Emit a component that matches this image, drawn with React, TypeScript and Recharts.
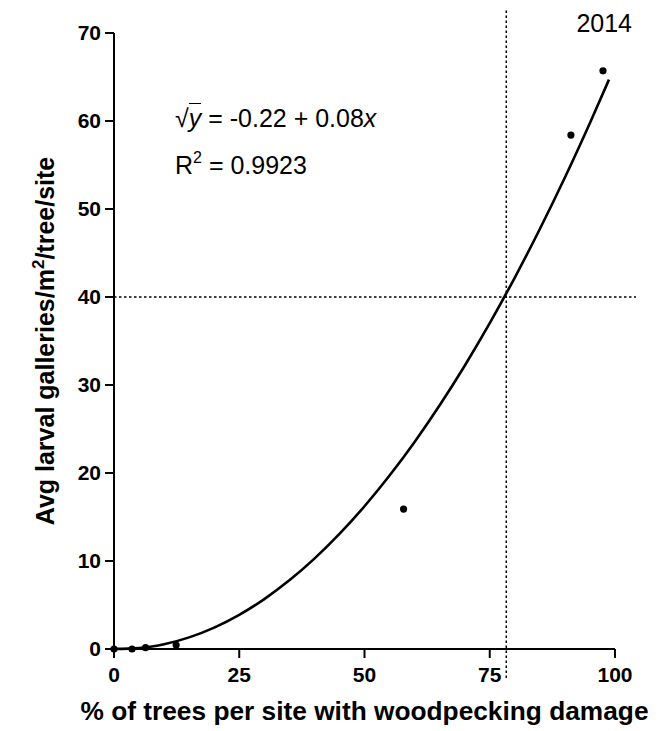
import React from "react";
import {
  ComposedChart,
  Line,
  Scatter,
  XAxis,
  YAxis,
  ReferenceLine,
} from "recharts";

const FONT = "'Liberation Sans', Arial, sans-serif";

// observed sites
const SITE_X = [0, 3.6, 6.3, 12.4, 57.8, 91.2, 97.6];
const SITE_Y = [0, 0, 0.15, 0.45, 15.9, 58.4, 65.7];

// fitted curve
const FIT_X = [0, 5, 10, 15, 20, 25, 30, 35, 40, 45, 50, 55, 60, 65, 70, 75, 80, 85, 90, 95, 98.8];
const FIT_Y = [0.01, 0.1, 0.54, 1.32, 2.43, 3.88, 5.67, 7.8, 10.27, 13.08, 16.22, 19.71, 23.53, 27.69, 32.19, 37.03, 42.21, 47.73, 53.58, 59.78, 64.7];

const X_TICKS = [0, 25, 50, 75, 100];
const Y_TICKS = [0, 10, 20, 30, 40, 50, 60, 70];

const THRESH_X = 78.3;
const THRESH_Y = 40;

const sites = SITE_X.map((x, i) => ({ x, y: SITE_Y[i] }));
const fit = FIT_X.map((x, i) => ({ x, y: FIT_Y[i] }));

const tickStyle = { fontSize: 21, fontWeight: 700, fill: "#000", fontFamily: FONT };

function Dot(props: any) {
  const { cx, cy } = props;
  return <circle cx={cx} cy={cy} r={3.6} fill="#000" />;
}

function XTitle(props: any) {
  const vb = props.viewBox;
  return (
    <text
      x={vb.x + vb.width / 2}
      y={vb.y + 71}
      textAnchor="middle"
      fontSize={26}
      fontWeight={700}
      fontFamily={FONT}
      fill="#000"
      textLength={568}
      lengthAdjust="spacingAndGlyphs"
    >
      % of trees per site with woodpecking damage
    </text>
  );
}

function YTitle(props: any) {
  const vb = props.viewBox;
  const cx = 54;
  const cy = vb ? vb.y + vb.height / 2 : 341;
  return (
    <text
      transform={`translate(${cx},${cy}) rotate(-90)`}
      textAnchor="middle"
      fontSize={25}
      fontWeight={700}
      fontFamily={FONT}
      fill="#000"
    >
      Avg larval galleries/m
      <tspan dy={-10} fontSize={17}>2</tspan>
      <tspan dy={10}>/tree/site</tspan>
    </text>
  );
}

export default function App() {
  return (
    <div style={{ position: "absolute", left: 0, top: 0, width: 666, height: 731, background: "#fff" }}>
      <ComposedChart
        width={666}
        height={731}
        margin={{ top: 33, right: 51, bottom: 0, left: 0 }}
      >
        <XAxis
          type="number"
          dataKey="x"
          domain={[0, 100]}
          ticks={X_TICKS}
          stroke="#000"
          strokeWidth={2}
          tickSize={9}
          tickMargin={9}
          tick={tickStyle}
          height={82}
          label={<XTitle />}
        />
        <YAxis
          type="number"
          dataKey="y"
          domain={[0, 70]}
          ticks={Y_TICKS}
          stroke="#000"
          strokeWidth={2}
          tickSize={9}
          tickMargin={4}
          tick={tickStyle}
          width={114}
          label={<YTitle />}
        />
        <ReferenceLine
          segment={[{ x: THRESH_X, y: -3.3 }, { x: THRESH_X, y: 72.8 }]}
          ifOverflow="visible"
          stroke="#000"
          strokeWidth={1.5}
          strokeDasharray="2.5 2.5"
        />
        <ReferenceLine
          segment={[{ x: 0, y: THRESH_Y }, { x: 104.2, y: THRESH_Y }]}
          ifOverflow="visible"
          stroke="#000"
          strokeWidth={1.5}
          strokeDasharray="2.5 2.5"
        />
        <Line
          data={fit}
          dataKey="y"
          type="monotone"
          stroke="#000"
          strokeWidth={2.6}
          dot={false}
          isAnimationActive={false}
        />
        <Scatter
          data={sites}
          dataKey="y"
          fill="#000"
          shape={<Dot />}
          isAnimationActive={false}
        />
      </ComposedChart>
      <div
        style={{
          position: "absolute",
          left: 175,
          top: 103,
          fontFamily: FONT,
          fontSize: 25,
          color: "#000",
          whiteSpace: "nowrap",
          lineHeight: "30px",
        }}
      >
        <span>√</span>
        <span style={{ borderTop: "1.5px solid #000", fontStyle: "italic" }}>y</span>
        <span> = -0.22 + 0.08</span>
        <span style={{ fontStyle: "italic" }}>x</span>
      </div>
      <div
        style={{
          position: "absolute",
          left: 175,
          top: 150,
          fontFamily: FONT,
          fontSize: 25,
          color: "#000",
          whiteSpace: "nowrap",
          lineHeight: "30px",
        }}
      >
        R<sup style={{ fontSize: 16, verticalAlign: "11px", lineHeight: 0 }}>2</sup> = 0.9923
      </div>
      <div
        style={{
          position: "absolute",
          right: 34,
          top: 8,
          fontFamily: FONT,
          fontSize: 25,
          color: "#000",
          lineHeight: "30px",
        }}
      >
        2014
      </div>
    </div>
  );
}
